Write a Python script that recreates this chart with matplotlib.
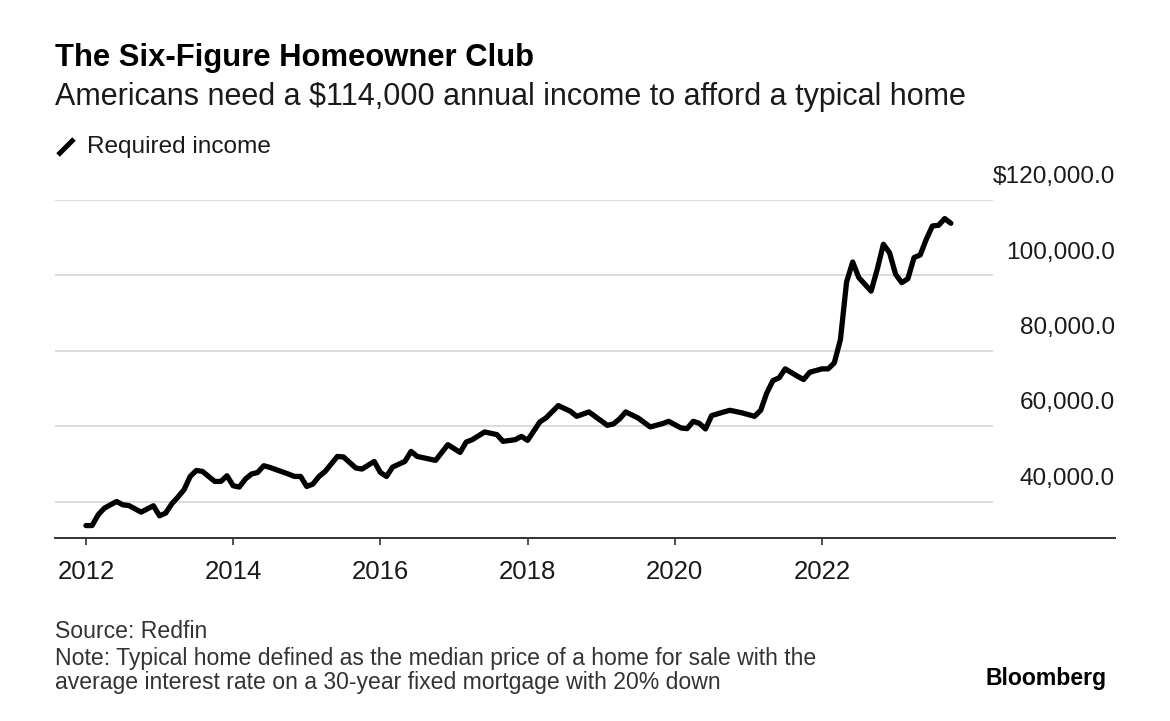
#!/usr/bin/env python

import numpy as np
import matplotlib
matplotlib.use('Agg')
import matplotlib.pyplot as plt
from matplotlib.lines import Line2D

plt.rcParams['font.family'] = ['Liberation Sans', 'DejaVu Sans']

# month offsets from Jan 2012, and required income
months = [0, 1, 2, 3, 5, 6, 7, 9, 11, 12, 13, 14, 15, 16, 17, 18, 19, 21, 22, 23,
          24, 25, 26, 27, 28, 29, 30, 33, 34, 35, 36, 37, 38, 39, 41, 42, 44, 45, 47,
          48, 49, 50, 52, 53, 54, 57, 59, 61, 62, 63, 65, 67, 68, 70, 71,
          72, 74, 75, 77, 79, 80, 82, 85, 86, 87, 88, 90, 92, 94, 95,
          97, 98, 99, 100, 101, 102, 104, 105, 107, 109, 110, 111, 112, 113, 114,
          116, 117, 118, 120, 121, 122, 123, 124, 125, 126, 128, 129, 130, 131,
          132, 133, 134, 135, 136, 137, 138, 139, 140, 141]
income = [33700, 33700, 36550, 38300, 40080, 39200, 39000, 37260, 38940, 36280,
          37000, 39470, 41250, 43200, 46720, 48300, 48050, 45400, 45400, 46900,
          44250, 43900, 46030, 47360, 47780, 49560, 49100, 47360, 46720, 46720,
          44060, 44700, 46720, 48050, 52030, 51870, 48950, 48680, 50700,
          47780, 46720, 49210, 50700, 53360, 52030, 50970, 55140, 53090, 55850,
          56470, 58510, 57800, 56020, 56470, 57340,
          56280, 61170, 62230, 65500, 63980, 62650, 63820, 60270, 60640, 61970,
          63820, 62230, 59840, 60720, 61330,
          59570, 59390, 61330, 60800, 59310, 62840, 63820, 64250, 63560, 62650,
          64250, 68870, 72140, 72850, 75240,
          73280, 72400, 74340, 75240, 75240, 76830, 83000, 98250, 103560, 99420,
          95850, 101620, 108260, 106050,
          100290, 98090, 99150, 104730, 105420, 109590, 113120, 113300, 115080, 113830]

yticks = [40000, 60000, 80000, 100000, 120000]
ylabels = ['40,000.0', '60,000.0', '80,000.0', '100,000.0', '$120,000.0']
xticks = [2012, 2014, 2016, 2018, 2020, 2022]

W, H = 1170, 721
fig = plt.figure(figsize=(W / 100, H / 100), dpi=100)
ax = fig.add_axes([55 / W, (H - 538) / H, (1115 - 55) / W, (538 - 200) / H])

x = 2012 + np.array(months) / 12.0
ax.plot(x, income, color='black', lw=3.8, solid_joinstyle='round',
        solid_capstyle='round', zorder=3, clip_on=False)

ax.set_xlim(2011.58, 2025.98)
ax.set_ylim(30400, 120000)

for v, lbl in zip(yticks, ylabels):
    ax.axhline(v, xmin=0, xmax=0.884, color='#dcdcdc', lw=1.4, zorder=1)
    ax.annotate(lbl, xy=(1.0, v), xycoords=('axes fraction', 'data'),
                xytext=(0, 16.5), textcoords='offset points',
                ha='right', va='center', fontsize=17.6, color='#1a1a1a')

for s in ['top', 'right', 'left']:
    ax.spines[s].set_visible(False)
ax.spines['bottom'].set_color('#333333')
ax.spines['bottom'].set_linewidth(1.4)
ax.set_yticks([])
ax.set_xticks(xticks)
ax.set_xticklabels([str(t) for t in xticks], fontsize=18.5, color='#1a1a1a')
ax.tick_params(axis='x', length=5, width=1.2, color='#333333', pad=11)

fig.text(55 / W, 1 - 58 / H, 'The Six-Figure Homeowner Club', fontsize=22.3,
         fontweight='bold', va='center', ha='left', color='black')
fig.text(55 / W, 1 - 97 / H,
         'Americans need a $114,000 annual income to afford a typical home',
         fontsize=22, va='center', ha='left', color='#1a1a1a')

fig.add_artist(Line2D([58 / W, 74 / W], [1 - 155 / H, 1 - 139 / H],
                      color='black', lw=3.6, solid_capstyle='butt'))
fig.text(87 / W, 1 - 147 / H, 'Required income', fontsize=17.6,
         va='center', ha='left', color='#1a1a1a')

fig.text(55 / W, 1 - 632 / H, 'Source: Redfin', fontsize=16.6, va='center',
         color='#333333')
fig.text(55 / W, 1 - 658 / H,
         'Note: Typical home defined as the median price of a home for sale with the',
         fontsize=16.6, va='center', color='#333333')
fig.text(55 / W, 1 - 683 / H,
         'average interest rate on a 30-year fixed mortgage with 20% down',
         fontsize=16.6, va='center', color='#333333')
fig.text(1107 / W, 1 - 678 / H, 'Bloomberg', fontsize=16.6, fontweight='bold',
         va='center', ha='right', color='black')

fig.savefig('out.png', dpi=100)
